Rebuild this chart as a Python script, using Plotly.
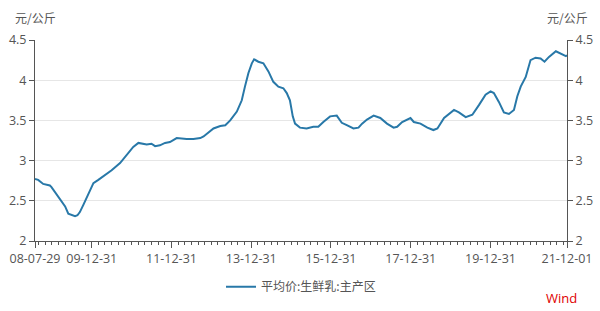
import plotly.graph_objects as go
import pandas as pd

# ---- data ----
dates = [
    "2008-07-29", "2008-08-27", "2008-10-12", "2008-12-12", "2008-12-27",
    "2009-01-27", "2009-03-15", "2009-04-15", "2009-05-01", "2009-05-30",
    "2009-07-01", "2009-07-31", "2009-08-22", "2009-09-13", "2009-10-15",
    "2009-11-29", "2010-01-15", "2010-03-01", "2010-05-01", "2010-07-01",
    "2010-09-16", "2010-11-17", "2011-01-15", "2011-03-03", "2011-05-18",
    "2011-07-01", "2011-08-03", "2011-09-16", "2011-11-02", "2011-12-17",
    "2012-02-17", "2012-05-18", "2012-07-19", "2012-09-20", "2012-10-20",
    "2013-01-19", "2013-03-22", "2013-05-07", "2013-06-21", "2013-08-21",
    "2013-10-05", "2013-11-03", "2013-12-05", "2014-01-05", "2014-01-26",
    "2014-03-06", "2014-04-21", "2014-06-06", "2014-07-21", "2014-09-05",
    "2014-10-21", "2014-11-21", "2014-12-20", "2015-01-15", "2015-02-05",
    "2015-03-22", "2015-05-22", "2015-07-22", "2015-09-06", "2015-10-22",
    "2015-12-23", "2016-02-22", "2016-04-08", "2016-05-24", "2016-07-24",
    "2016-09-08", "2016-10-11", "2016-11-25", "2017-01-25", "2017-03-27",
    "2017-05-27", "2017-07-27", "2017-08-28", "2017-10-13", "2017-12-28",
    "2018-01-28", "2018-03-30", "2018-06-01", "2018-07-26", "2018-09-01",
    "2018-11-01", "2019-01-31", "2019-03-17", "2019-05-18", "2019-07-18",
    "2019-09-16", "2019-11-16", "2020-01-01", "2020-01-31", "2020-03-17",
    "2020-05-02", "2020-06-17", "2020-08-02", "2020-09-02", "2020-10-03",
    "2020-11-18", "2021-01-01", "2021-02-16", "2021-04-03", "2021-05-09",
    "2021-06-19", "2021-08-21", "2021-10-06", "2021-11-21", "2021-12-01",
]
prices = [
    2.77, 2.76, 2.71, 2.69, 2.67,
    2.61, 2.51, 2.45, 2.43, 2.34,
    2.32, 2.31, 2.32, 2.36, 2.45,
    2.59, 2.72, 2.76, 2.82, 2.88,
    2.97, 3.07, 3.17, 3.22, 3.20,
    3.21, 3.18, 3.19, 3.22, 3.23,
    3.28, 3.27, 3.27, 3.28, 3.30,
    3.40, 3.43, 3.44, 3.50, 3.61,
    3.75, 3.92, 4.09, 4.21, 4.26,
    4.23, 4.21, 4.11, 3.98, 3.92,
    3.90, 3.84, 3.75, 3.55, 3.46,
    3.41, 3.40, 3.42, 3.42, 3.48,
    3.55, 3.56, 3.47, 3.44, 3.40,
    3.41, 3.46, 3.51, 3.56, 3.53,
    3.46, 3.41, 3.42, 3.48, 3.53,
    3.48, 3.46, 3.41, 3.38, 3.40,
    3.53, 3.63, 3.60, 3.54, 3.57,
    3.69, 3.82, 3.86, 3.84, 3.73,
    3.60, 3.58, 3.63, 3.80, 3.92,
    4.04, 4.25, 4.28, 4.27, 4.23,
    4.29, 4.36, 4.33, 4.30, 4.31,
]
series_name = "平均价:生鲜乳:主产区"
unit = "元/公斤"
x_start, x_end = "2008-07-29", "2021-12-01"
x_tick_vals = [x_start] + [f"{y}-12-31" for y in range(2009, 2021)] + [x_end]
x_tick_text = ["08-07-29"] + [
    (f"{str(y)[2:]}-12-31" if y % 2 == 1 else "") for y in range(2009, 2021)
] + ["21-12-01"]
y_tick_vals = [2, 2.5, 3, 3.5, 4, 4.5]
y_tick_text = ["2", "2.5", "3", "3.5", "4", "4.5"]

FONT = "Noto Sans CJK SC, Open Sans, sans-serif"
NUMFONT = "Open Sans, Noto Sans CJK SC, sans-serif"
AX = "#555555"
LINE = "#2878a8"

minor_vals = [d.strftime("%Y-%m-%d") for d in pd.date_range("2008-08-31", x_end, freq="2ME")]

fig = go.Figure()
fig.add_trace(go.Scatter(x=dates, y=prices, mode="lines", name=series_name,
                         line=dict(color=LINE, width=2)))
fig.add_trace(go.Scatter(x=dates, y=prices, mode="lines", yaxis="y2",
                         line=dict(color="rgba(0,0,0,0)", width=0),
                         showlegend=False, hoverinfo="skip"))

fig.update_layout(
    width=600, height=311,
    margin=dict(l=35, r=33, t=40, b=70, autoexpand=False),
    paper_bgcolor="white", plot_bgcolor="white",
    font=dict(family=FONT, size=12, color=AX),
    showlegend=True,
    legend=dict(orientation="h", x=0.5, xanchor="center", y=-0.155, yanchor="top",
                font=dict(size=12, color=AX), itemwidth=30),
    xaxis=dict(
        type="date", range=[x_start, x_end],
        tickmode="array", tickvals=x_tick_vals, ticktext=x_tick_text,
        ticks="outside", ticklen=6, tickwidth=1, tickcolor=AX,
        showline=True, linecolor=AX, linewidth=1,
        showgrid=False, zeroline=False,
        tickfont=dict(family=NUMFONT, size=12.5, color=AX),
        minor=dict(tickmode="array", tickvals=minor_vals, ticks="outside",
                   ticklen=3, tickcolor=AX, showgrid=False),
    ),
    yaxis=dict(
        range=[2, 4.5], tickmode="array", tickvals=y_tick_vals, ticktext=y_tick_text,
        ticks="outside", ticklen=5, tickcolor=AX,
        showline=True, linecolor=AX, linewidth=1,
        showgrid=True, gridcolor="#e6e6e6", zeroline=False,
        tickfont=dict(family=NUMFONT, size=12.5, color=AX),
    ),
    yaxis2=dict(
        range=[2, 4.5], overlaying="y", side="right",
        tickmode="array", tickvals=y_tick_vals, ticktext=y_tick_text,
        ticks="outside", ticklen=5, tickcolor=AX,
        showline=True, linecolor=AX, linewidth=1,
        showgrid=False, zeroline=False,
        tickfont=dict(family=NUMFONT, size=12.5, color=AX),
    ),
    annotations=[
        dict(text=unit, xref="paper", yref="paper", x=0, y=1, xshift=-22, yshift=12,
             xanchor="left", yanchor="bottom", showarrow=False,
             font=dict(size=12, color=AX)),
        dict(text=unit, xref="paper", yref="paper", x=1, y=1, xshift=-22, yshift=12,
             xanchor="left", yanchor="bottom", showarrow=False,
             font=dict(size=12, color=AX)),
        dict(text="Wind", xref="paper", yref="paper", x=1, y=0, xshift=12, yshift=-57,
             xanchor="right", yanchor="middle", showarrow=False,
             font=dict(family=NUMFONT, size=13, color="#e00000")),
    ],
)

fig.write_html("out.html")
